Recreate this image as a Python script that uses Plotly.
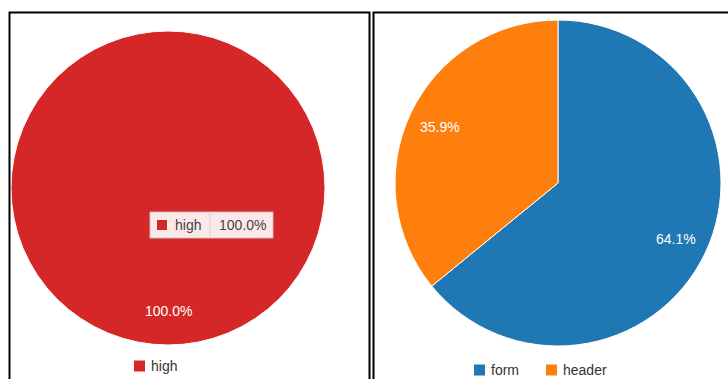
import math
import plotly.graph_objects as go

W, H = 728, 379
FONT = "Liberation Sans, Arial, sans-serif"

# Data
risk_labels = ["high"]
risk_values = [100.0]
risk_colors = ["#d62728"]

section_labels = ["form", "header"]
section_values = [64.1, 35.9]
section_colors = ["#1f77b4", "#ff7f0e"]


def px(x):
    return x / W


def py(y):
    return 1 - y / H


def pct_text(values):
    total = sum(values)
    return [f"{v / total * 100:.1f}%" for v in values]


def slice_label_pos(values, cx, cy, r, frac=0.8):
    """Mid-angle of each slice (clockwise from 12 o'clock) at frac * radius."""
    total = sum(values)
    out = []
    cum = 0.0
    for v in values:
        a = (cum + v / 2) / total * 2 * math.pi
        out.append((cx + frac * r * math.sin(a), cy - frac * r * math.cos(a)))
        cum += v
    return out


# Pie geometry (pixel centres / radii)
L_CX, L_CY, L_R = 168, 188, 157
R_CX, R_CY, R_R = 558, 183, 163

fig = go.Figure()
fig.add_trace(go.Pie(
    labels=risk_labels, values=risk_values, sort=False, direction="clockwise",
    marker=dict(colors=risk_colors, line=dict(color="white", width=1)),
    textinfo="none", hoverinfo="skip", showlegend=False,
    domain=dict(x=[px(L_CX - L_R), px(L_CX + L_R)], y=[py(L_CY + L_R), py(L_CY - L_R)]),
))
fig.add_trace(go.Pie(
    labels=section_labels, values=section_values, sort=False, direction="clockwise",
    marker=dict(colors=section_colors, line=dict(color="white", width=1)),
    textinfo="none", hoverinfo="skip", showlegend=False,
    domain=dict(x=[px(R_CX - R_R), px(R_CX + R_R)], y=[py(R_CY + R_R), py(R_CY - R_R)]),
))

shapes = []
annotations = []

# Panel frames
for x0, x1 in [(9.5, 369.5), (373.5, 740)]:
    shapes.append(dict(type="rect", xref="paper", yref="paper",
                       x0=px(x0), x1=px(x1), y0=py(400), y1=py(12.5),
                       line=dict(color="black", width=2), fillcolor="rgba(0,0,0,0)", layer="above"))

# Percentage labels on slices
for values, cx, cy, r, frac in [(risk_values, L_CX, L_CY, L_R, 0.785),
                                (section_values, R_CX, R_CY, R_R, 0.8)]:
    for (x, y), t in zip(slice_label_pos(values, cx, cy, r, frac), pct_text(values)):
        annotations.append(dict(x=px(x), y=py(y), xref="paper", yref="paper", text=t,
                                showarrow=False, font=dict(family=FONT, size=14, color="white"),
                                xanchor="center", yanchor="middle"))

# Tooltip box on the left pie
tip_x0, tip_x1, tip_y0, tip_y1 = 150, 273, 212, 238
shapes.append(dict(type="rect", xref="paper", yref="paper",
                   x0=px(tip_x0), x1=px(tip_x1), y0=py(tip_y1), y1=py(tip_y0),
                   fillcolor="rgba(255,255,255,0.9)", line=dict(color="rgba(200,200,200,0.9)", width=1)))
shapes.append(dict(type="line", xref="paper", yref="paper",
                   x0=px(210), x1=px(210), y0=py(tip_y1 - 1), y1=py(tip_y0 + 1),
                   line=dict(color="rgba(215,205,205,1)", width=1)))
shapes.append(dict(type="rect", xref="paper", yref="paper",
                   x0=px(157), x1=px(167), y0=py(230), y1=py(220),
                   fillcolor=risk_colors[0], line=dict(width=0)))
annotations.append(dict(x=px(173), y=py(225), xref="paper", yref="paper", text=risk_labels[0],
                        showarrow=False, xanchor="left", yanchor="middle",
                        font=dict(family=FONT, size=14, color="#444")))
annotations.append(dict(x=px(217), y=py(225), xref="paper", yref="paper",
                        text=pct_text(risk_values)[0], showarrow=False, xanchor="left", yanchor="middle",
                        font=dict(family=FONT, size=14, color="#444")))

# Legends under each pie
def add_legend(labels, colors, starts, yc=366):
    for lab, col, x in zip(labels, colors, starts):
        shapes.append(dict(type="rect", xref="paper", yref="paper",
                           x0=px(x), x1=px(x + 11), y0=py(yc + 5.5), y1=py(yc - 5.5),
                           fillcolor=col, line=dict(width=0)))
        annotations.append(dict(x=px(x + 15), y=py(yc), xref="paper", yref="paper", text=lab,
                                showarrow=False, xanchor="left", yanchor="middle",
                                font=dict(family=FONT, size=14, color="#333")))


add_legend(risk_labels, risk_colors, [134])
add_legend(section_labels, section_colors, [474, 546], yc=370)

fig.update_layout(
    width=W, height=H, margin=dict(l=0, r=0, t=0, b=0),
    paper_bgcolor="white", plot_bgcolor="white",
    shapes=shapes, annotations=annotations, showlegend=False,
)

fig.write_html("out.html")
